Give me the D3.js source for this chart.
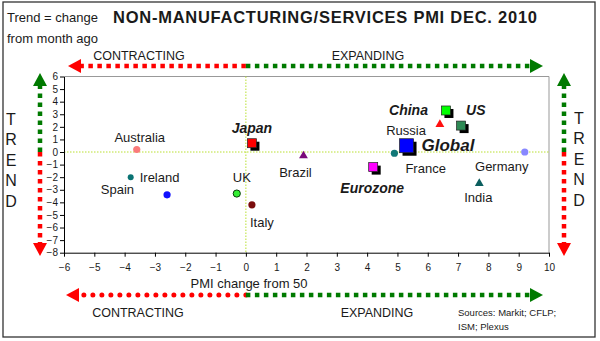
<!DOCTYPE html>
<meta charset="utf-8">
<style>
body { margin:0; background:#fff; }
svg text { font-family: Arial, "Liberation Sans", sans-serif; fill:#1a1a1a; }
.tick text { font-size:10px; }
.lbl { font-size:13px; }
.lbl.em { font-weight:bold; font-style:italic; font-size:14px; }
.lbl.big { font-size:17px; }
</style>
<body>
<svg width="600" height="341"></svg>
<script src="https://cdn.jsdelivr.net/npm/d3@7"></script>
<script>

var countries = ["Australia","Ireland","Spain","UK","Italy","Japan","Brazil","Eurozone","France","Global","Russia","China","US","Germany","India"];
var pmiChange = [-3.6,-3.8,-2.6,-0.3,0.2,0.2,1.9,4.2,4.9,5.3,6.4,6.6,7.1,9.2,7.7];
var trend     = [0.2,-2.0,-3.4,-3.3,-4.2,0.7,-0.3,-1.2,-0.1,0.5,2.2,3.3,2.1,0.0,-2.5];
var xTicks = d3.range(-6, 11);
var yTicks = d3.range(-8, 7);

// marker look per country
var marks = {
  Australia:{shape:"circle", fill:"#fa7a7a"},
  Ireland:{shape:"circle", fill:"#0a7373", r:3},
  Spain:{shape:"circle", fill:"#1010ff"},
  UK:{shape:"circle", fill:"#33ee33", stroke:"#083d08"},
  Italy:{shape:"circle", fill:"#7a0c0c"},
  Japan:{shape:"square", fill:"#ff0000", s:9},
  Brazil:{shape:"triangle", fill:"#7a0a7a"},
  Eurozone:{shape:"square", fill:"#ff00ff", s:9},
  France:{shape:"circle", fill:"#127878"},
  Global:{shape:"square", fill:"#0000ff", s:14},
  Russia:{shape:"triangle", fill:"#ff1010"},
  China:{shape:"square", fill:"#00ff00", s:9},
  US:{shape:"square", fill:"#2e8a55", s:9},
  Germany:{shape:"circle", fill:"#8888ff"},
  India:{shape:"triangle", fill:"#0b5e5e"}
};
// label placement relative to marker
var labelPos = {
  Australia:{dx:3, dy:-12, a:"middle"},
  Ireland:{dx:9, dy:0, a:"start"},
  Spain:{dx:-33, dy:-5, a:"end"},
  UK:{dx:5, dy:-16, a:"middle"},
  Italy:{dx:-2, dy:18, a:"start"},
  Japan:{dx:0, dy:-15, a:"middle", cls:"em"},
  Brazil:{dx:-8, dy:17, a:"middle"},
  Eurozone:{dx:-1, dy:21, a:"middle", cls:"em"},
  France:{dx:11, dy:15, a:"start"},
  Global:{dx:15, dy:-1, a:"start", cls:"em big"},
  Russia:{dx:-14, dy:6, a:"end"},
  China:{dx:-18, dy:0, a:"end", cls:"em"},
  US:{dx:5, dy:-15, a:"start", cls:"em"},
  Germany:{dx:-23, dy:14, a:"middle"},
  India:{dx:-1, dy:14, a:"middle"}
};

var RED = "#ff0000", GREEN = "#007a00";
var svg = d3.select("svg");

svg.append("rect").attr("x",3).attr("y",2).attr("width",592).attr("height",335)
  .attr("fill","none").attr("stroke","#333").attr("stroke-width",1.3);

var x = d3.scaleLinear().domain([-6,10]).range([64,549]);
var y = d3.scaleLinear().domain([-8,6]).range([252.7,76.5]);

// plot frame (grey top/right)
svg.append("path").attr("d","M"+x(-6)+","+y(6)+"H"+x(10)+"V"+y(-8))
  .attr("fill","none").attr("stroke","#999");

// zero lines
svg.append("line").attr("x1",x(-6)).attr("x2",x(10)).attr("y1",y(0)).attr("y2",y(0))
  .attr("stroke","#b9e030").attr("stroke-dasharray","1.5,1.5");
svg.append("line").attr("x1",x(0)).attr("x2",x(0)).attr("y1",y(6)).attr("y2",y(-8))
  .attr("stroke","#b9e030").attr("stroke-dasharray","1.5,1.5");

var gx = svg.append("g").attr("transform","translate(0,"+y(-8)+")")
  .call(d3.axisBottom(x).tickValues(xTicks).tickSize(4).tickPadding(7).tickSizeOuter(0));
var gy = svg.append("g").attr("transform","translate("+x(-6)+",0)")
  .call(d3.axisLeft(y).tickValues(yTicks).tickSize(4).tickPadding(2).tickSizeOuter(0));
svg.selectAll(".domain, .tick line").attr("stroke","#000");

// points
var pts = countries.map(function(c,i){ return {name:c, px:x(pmiChange[i]), py:y(trend[i])}; });
var g = svg.append("g");
pts.forEach(function(p){
  var m = marks[p.name];
  if (m.shape === "square") {
    var s = m.s;
    g.append("rect").attr("x",p.px-s/2+3).attr("y",p.py-s/2+3).attr("width",s).attr("height",s).attr("fill","#000");
    g.append("rect").attr("x",p.px-s/2).attr("y",p.py-s/2).attr("width",s).attr("height",s)
      .attr("fill",m.fill).attr("stroke","#222").attr("stroke-width",0.7);
  } else if (m.shape === "triangle") {
    g.append("path").attr("d",d3.symbol(d3.symbolTriangle,34)())
      .attr("transform","translate("+p.px+","+p.py+")").attr("fill",m.fill);
  } else {
    g.append("circle").attr("cx",p.px).attr("cy",p.py).attr("r",m.r||3.6)
      .attr("fill",m.fill).attr("stroke",m.stroke||"none").attr("stroke-width",1);
  }
  var l = labelPos[p.name];
  g.append("text").attr("class","lbl "+(l.cls||""))
    .attr("x",p.px+l.dx).attr("y",p.py+l.dy).attr("dy","0.35em")
    .attr("text-anchor",l.a).text(p.name);
});

// dotted arrows
function seg(x1,y1,x2,y2,col,round){
  svg.append("line").attr("x1",x1).attr("y1",y1).attr("x2",x2).attr("y2",y2)
    .attr("stroke",col).attr("stroke-width",round?5:4.5)
    .attr("stroke-linecap",round?"round":"butt")
    .attr("stroke-dasharray",round?"0,9":"4.5,4.5");
}
function head(tx,ty,dir,col){
  var L=13, W=7, p;
  if (dir==="l") p=[[tx,ty],[tx+L,ty-W],[tx+L,ty+W]];
  if (dir==="r") p=[[tx,ty],[tx-L,ty-W],[tx-L,ty+W]];
  if (dir==="u") p=[[tx,ty],[tx-W,ty+L],[tx+W,ty+L]];
  if (dir==="d") p=[[tx,ty],[tx-W,ty-L],[tx+W,ty-L]];
  svg.append("path").attr("d","M"+p.join("L")+"Z").attr("fill",col);
}
function hArrow(yy,x1,x2,round){
  var m = x(0);
  seg(m,yy,x1+10,yy,RED,round);
  seg(m,yy,x2-10,yy,GREEN,false);
  head(x1,yy,"l",RED); head(x2,yy,"r",GREEN);
}
function vArrow(xx,y1,y2){
  var m = y(0);
  seg(xx,m,xx,y1+10,GREEN,false);
  seg(xx,m,xx,y2-10,RED,false);
  head(xx,y1,"u",GREEN); head(xx,y2,"d",RED);
}
hArrow(66,68,543,false);
hArrow(295,66,543,true);
vArrow(40,73,256);
vArrow(564,73,256);

// texts
function txt(t,xx,yy,size,anchor,weight){
  return svg.append("text").attr("x",xx).attr("y",yy).attr("dy","0.35em")
    .attr("font-size",size).attr("text-anchor",anchor||"middle")
    .attr("font-weight",weight||"normal").text(t);
}
txt("NON-MANUFACTURING/SERVICES PMI DEC. 2010",113,17,16.5,"start","bold")
  .attr("textLength",424).attr("lengthAdjust","spacing");
txt("Trend = change",7,17,13,"start");
txt("from month ago",7,38,13,"start");
txt("CONTRACTING",139,56,12.5);
txt("EXPANDING",368,56,12.5);
txt("PMI change from 50",249,283,13);
txt("CONTRACTING",138,313,12.5);
txt("EXPANDING",377,313,12.5);
txt("Sources: Markit; CFLP;",458,313,9.5,"start");
txt("ISM; Plexus",458,327,9.5,"start");
"TREND".split("").forEach(function(ch,i){
  txt(ch,11,119+i*20.5,16).attr("font-weight","lighter");
  txt(ch,579,118+i*20.5,16).attr("font-weight","lighter");
});

</script>
